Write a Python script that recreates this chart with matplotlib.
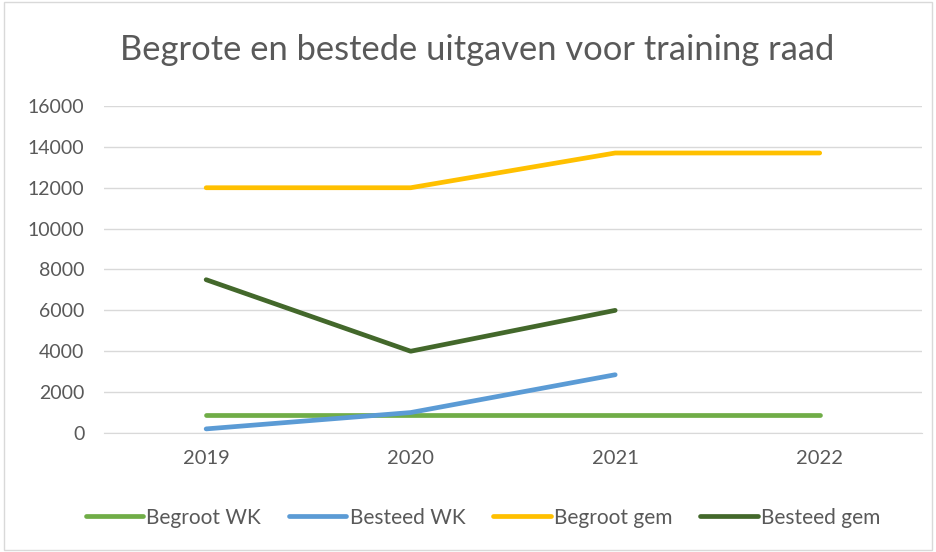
import matplotlib.pyplot as plt
from matplotlib.patches import Rectangle

years = ['2019', '2020', '2021', '2022']
begroot_wk = [900, 900, 900, 900]
besteed_wk = [200, 1000, 2850]
begroot_gem = [12000, 12000, 13700, 13700]
besteed_gem = [7500, 4000, 6000]

plt.rcParams['font.family'] = ['Lato', 'DejaVu Sans']
text_color = '#595959'

fig = plt.figure(figsize=(9.36, 5.52), dpi=100)
ax = fig.add_axes([0.111, 0.2156, 0.874, 0.5924])

x = list(range(len(years)))
ax.plot(x, begroot_wk, color='#70AD47', lw=3.4, solid_capstyle='round', label='Begroot WK')
ax.plot(x[:len(besteed_wk)], besteed_wk, color='#5B9BD5', lw=3.4, solid_capstyle='round', label='Besteed WK')
ax.plot(x, begroot_gem, color='#FFC000', lw=3.4, solid_capstyle='round', label='Begroot gem')
ax.plot(x[:len(besteed_gem)], besteed_gem, color='#43682B', lw=3.4, solid_capstyle='round', label='Besteed gem')

ax.set_xlim(-0.5, 3.5)
ax.set_ylim(0, 16000)
ax.set_yticks(range(0, 16001, 2000))
ax.set_xticks(x)
ax.set_xticklabels(years)
ax.grid(axis='y', color='#D9D9D9', lw=1)
ax.set_axisbelow(True)
for s in ['top', 'right', 'left']:
    ax.spines[s].set_visible(False)
ax.spines['bottom'].set_color('#D9D9D9')
ax.tick_params(axis='y', length=0, labelsize=14, colors=text_color, pad=14)
ax.tick_params(axis='x', length=0, labelsize=14.5, colors=text_color, pad=12)

fig.text(0.51, 0.909, 'Begrote en bestede uitgaven voor training raad',
         ha='center', va='center', fontsize=24.8, color=text_color)

fig.legend(loc='center', bbox_to_anchor=(0.516, 0.062), ncol=4, frameon=False,
           fontsize=15, handlelength=2.75, handletextpad=0.15, columnspacing=1.35,
           labelcolor=text_color)

fig.patches.append(Rectangle((0.004, 0.004), 0.992, 0.992, transform=fig.transFigure,
                             fill=False, edgecolor='#D9D9D9', lw=1))

fig.savefig('out.png', dpi=100)
